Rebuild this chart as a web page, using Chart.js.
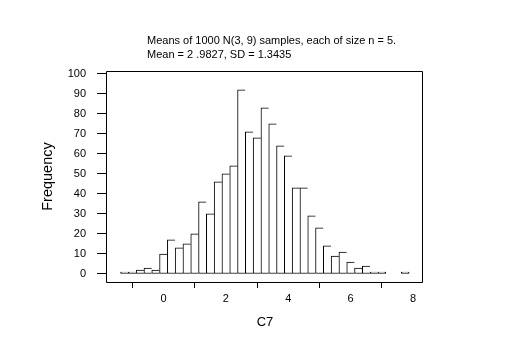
<!DOCTYPE html>
<html>
<head>
<meta charset="utf-8">
<script src="https://cdn.jsdelivr.net/npm/chart.js@4/dist/chart.umd.min.js"></script>
<style>
  html, body { margin:0; padding:0; background:#fff; }
  #wrap { width:530px; height:354px; }
</style>
</head>
<body>
<div id="wrap"><canvas id="hist"></canvas></div>
<script>
// histogram of C7, bin midpoints (width 0.25)
const midpoints = [-1.25,-1.0,-0.75,-0.5,-0.25,0.0,0.25,0.5,0.75,1.0,1.25,1.5,1.75,2.0,2.25,2.5,2.75,3.0,3.25,3.5,3.75,4.0,4.25,4.5,4.75,5.0,5.25,5.5,5.75,6.0,6.25,6.5,6.75,7.0,7.25,7.5,7.75];
const counts = [1,1,2,3,2,10,17,13,15,20,36,30,46,50,54,92,71,68,83,75,64,59,43,43,29,23,14,9,11,6,3,4,1,1,0,0,1];
const xTicks = [0,2,4,6,8];
const yTicks = [0,10,20,30,40,50,60,70,80,90,100];
const titleLines = ['Means of 1000 N(3, 9) samples, each of size n = 5.', 'Mean = 2 .9827, SD = 1.3435'];

const font = 'Liberation Sans, Arial, sans-serif';

// box round the plot + the two title lines
const framePlugin = {
  id:'frame',
  afterDraw(chart) {
    const {ctx, chartArea:a} = chart;
    const l = Math.round(a.left) - 0.5, r = Math.round(a.right) - 0.5;
    const t = Math.round(a.top) + 0.5, b = Math.round(a.bottom) + 0.5;
    ctx.save();
    ctx.strokeStyle = '#000';
    ctx.lineWidth = 1;
    ctx.beginPath();
    ctx.moveTo(l, t); ctx.lineTo(r, t); ctx.lineTo(r, b); ctx.lineTo(l, b); ctx.closePath();
    ctx.stroke();
    ctx.fillStyle = '#000';
    ctx.font = '11px ' + font;
    ctx.textBaseline = 'middle';
    ctx.textAlign = 'left';
    ctx.fillText(titleLines[0], 147, 40.5);
    ctx.fillText(titleLines[1], 147, 55);
    ctx.restore();
  }
};

const ctx = document.getElementById('hist').getContext('2d');
new Chart(ctx, {
  type:'bar',
  data:{
    datasets:[{
      data: midpoints.map((m,i)=>({x:m, y:counts[i]})),
      backgroundColor:'#fff',
      borderColor:'#000',
      borderSkipped:false,
      // shared edges drawn once; close the right side at the end of each run
      borderWidth: c => {
        const i = c.dataIndex;
        const last = i === counts.length-1 || !counts[i+1];
        return {left:1, top:1, bottom:1, right: last ? 1 : 0};
      },
      barPercentage:1,
      categoryPercentage:1
    }]
  },
  options:{
    responsive:true, maintainAspectRatio:false, animation:false,
    devicePixelRatio:1,
    layout:{padding:{top:71, right:107, left:0, bottom:0}},
    plugins:{legend:{display:false}, tooltip:{enabled:false}},
    scales:{
      x:{
        type:'linear', min:-1.81, max:8.32, offset:false,
        afterBuildTicks: s => { s.ticks = xTicks.map(v=>({value:v})); },
        afterFit: s => { s.height = 72; },
        grid:{drawOnChartArea:false, drawTicks:true, tickLength:6, color:'#000'},
        border:{display:false},
        ticks:{color:'#000', padding:4, maxRotation:0, font:{family:font, size:11}},
        title:{display:true, text:'C7', color:'#000', font:{family:font, size:13}, padding:{top:0, bottom:24}}
      },
      y:{
        min:-4, max:101.35,
        afterBuildTicks: s => { s.ticks = yTicks.map(v=>({value:v})); },
        afterFit: s => { s.width = 107; },
        grid:{drawOnChartArea:false, drawTicks:true, tickLength:10, color:'#000'},
        border:{display:false},
        ticks:{color:'#000', padding:11, font:{family:font, size:11}},
        title:{display:true, text:'Frequency', color:'#000', font:{family:font, size:14.5}, padding:{top:39, bottom:0}}
      }
    }
  },
  plugins:[framePlugin]
});
</script>
</body>
</html>
